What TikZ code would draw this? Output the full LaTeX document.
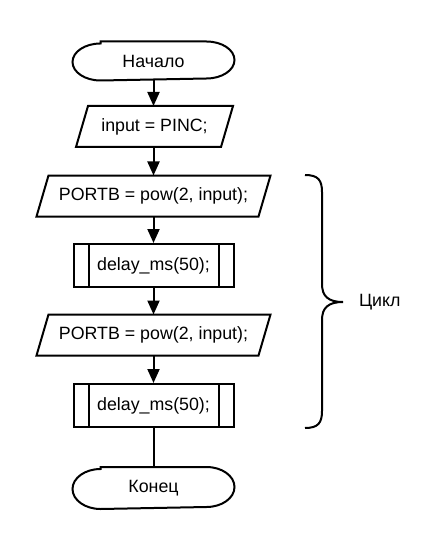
\documentclass[tikz,border=0pt]{standalone}
\usepackage{fontspec}
\setmainfont{Liberation Sans}
\usetikzlibrary{arrows.meta,calc}
\begin{document}
\begin{tikzpicture}[x=1pt,y=-1pt,
  every node/.style={font=\fontsize{17.8}{21}\selectfont, inner sep=0pt},
  line width=2pt,
  term/.style={rectangle, minimum width=160pt},
  parabox/.style={minimum height=39pt},
  proc/.style={draw, minimum width=160pt, minimum height=43pt},
  arr/.style={-{Triangle[length=14pt,width=12pt]}}]
\newcommand\paradraw[2]{\draw ($(#1.north west)+(#2,0)$) -- ($(#1.north east)+(#2,0)$) -- ($(#1.south east)+(-#2,0)$) -- ($(#1.south west)+(-#2,0)$) -- cycle;}
\newcommand\procbars[1]{\draw ([xshift=16pt]#1.north west) -- ([xshift=16pt]#1.south west);
  \draw ([xshift=-16pt]#1.north east) -- ([xshift=-16pt]#1.south east);}
% #1 node, #2 half height
\newcommand\termdraw[2]{\draw ($(#1.north west)+(28,0)$) -- ($(#1.north east)+(-28,0)$)
  arc[start angle=-90, end angle=90, x radius=28pt, y radius=-#2pt]
  -- ($(#1.south west)+(28,0)$)
  arc[start angle=90, end angle=270, x radius=28pt, y radius=-#2pt] -- cycle;}
\useasboundingbox (0,0) rectangle (425,548);
\fill[white] (0,0) rectangle (425,548);

\node[term, minimum height=37pt] (start) at (153.5,61) {Начало};
\termdraw{start}{18.5}
\node[parabox, minimum width=143pt] (inp) at (154.5,126.5) {input = PINC;};
\paradraw{inp}{6}
\node[parabox, minimum width=220pt] (pb1) at (153.5,196) {PORTB = pow(2, input);};
\paradraw{pb1}{6}
\node[proc] (d1) at (153.5,265.5) {delay\_ms(50);};
\procbars{d1}
\node[parabox, minimum width=220pt] (pb2) at (153.5,335) {PORTB = pow(2, input);};
\paradraw{pb2}{6}
\node[proc] (d2) at (153.5,405.5) {delay\_ms(50);};
\procbars{d2}
\node[term, minimum height=40pt] (end) at (153.5,488) {Конец};
\termdraw{end}{20}

\draw[arr] (start) -- (start |- inp.north);
\draw[arr] (start |- inp.south) -- (start |- pb1.north);
\draw[arr] (pb1) -- (d1);
\draw[arr] (d1) -- (pb2);
\draw[arr] (pb2) -- (d2);
\draw (d2) -- (end);

\coordinate (bt) at (305,175);
\coordinate (bb) at (305,428);
\coordinate (tip) at (343,302);
\draw[line width=2pt] (bt) .. controls (318,175) and (322,180) .. (322,192) -- (322,284)
  .. controls (322,296) and (328,302) .. (tip)
  .. controls (328,302) and (322,308) .. (322,320) -- (322,411)
  .. controls (322,423) and (318,428) .. (bb);
\node[anchor=west] (loop) at (358,302) {Цикл};
\end{tikzpicture}
\end{document}
